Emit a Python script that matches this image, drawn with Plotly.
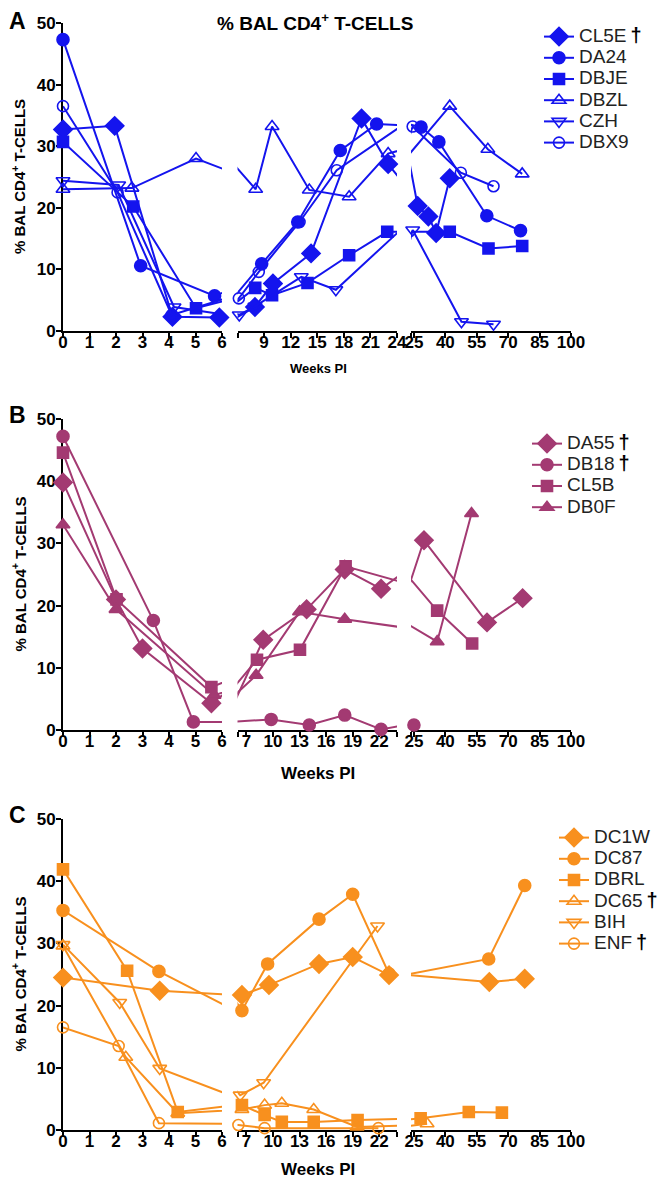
import plotly.graph_objects as go

# ---------------- data: weeks post infection (x) and % BAL CD4+ T-cells (y) ----------------
# Panel A (blue)
CL5E_wk = [0, 1.95, 4.13, 5.9, 7.97, 10.0, 14.3, 20.0, 23.0, 26.8, 31.9, 35.6, 42.1]
CL5E_pct = [32.7, 33.3, 2.3, 2.2, 3.9, 7.7, 12.6, 34.5, 27.1, 20.3, 18.6, 15.9, 24.8]
DA24_wk = [0, 2.93, 5.72, 8.73, 12.8, 17.6, 21.7, 28.4, 36.9, 59.8, 75.9]
DA24_pct = [47.3, 10.6, 5.7, 10.9, 17.7, 29.3, 33.6, 33.1, 30.7, 18.7, 16.3]
DBJE_wk = [0, 2.65, 5.02, 8.0, 9.9, 13.9, 18.6, 22.9, 42.1, 60.6, 76.7]
DBJE_pct = [30.7, 20.2, 3.7, 7.0, 5.8, 7.8, 12.3, 16.1, 16.1, 13.4, 13.8]
DBZL_wk = [0, 2.6, 5.02, 8.05, 9.9, 14.1, 18.6, 23.0, 42.1, 60.3, 76.7]
DBZL_pct = [23.0, 23.2, 28.0, 23.0, 33.2, 22.9, 21.8, 28.8, 36.5, 29.5, 25.5]
CZH_wk = [0, 2.1, 4.19, 6.2, 7.97, 13.2, 17.1, 24.4, 47.7, 63.0]
CZH_pct = [24.4, 23.7, 3.9, 2.6, 4.0, 8.8, 6.7, 16.4, 1.5, 1.1]
DBX9_wk = [0, 2.06, 4.1, 6.15, 8.4, 13.0, 17.2, 24.4, 47.4, 63.0]
DBX9_pct = [36.5, 22.5, 2.6, 5.3, 9.6, 17.7, 26.1, 33.2, 25.7, 23.5]

# Panel B (plum)
DA55_wk = [0, 2.0, 3.0, 5.6, 8.9, 13.8, 18.1, 22.2, 29.8, 59.9, 76.9]
DA55_pct = [39.8, 21.0, 13.1, 4.3, 14.5, 19.4, 25.8, 22.7, 30.5, 17.3, 21.2]
DB18_wk = [0, 3.41, 4.92, 9.8, 14.1, 18.1, 22.2, 25.0]
DB18_pct = [47.2, 17.6, 1.3, 1.7, 0.8, 2.4, 0.1, 0.8]
CL5B_wk = [0, 2.02, 5.6, 8.2, 13.05, 18.2, 36.1, 52.8]
CL5B_pct = [44.6, 21.0, 6.9, 11.3, 12.9, 26.3, 19.2, 13.9]
DB0F_wk = [0, 2.0, 5.7, 8.1, 13.0, 18.1, 36.1, 52.5]
DB0F_pct = [33.0, 19.4, 5.6, 8.8, 19.0, 17.8, 14.2, 34.8]

# Panel C (orange)
DC1W_wk = [0, 3.65, 6.5, 9.55, 15.2, 19.0, 23.1, 61.0, 77.9]
DC1W_pct = [24.5, 22.4, 21.7, 23.3, 26.7, 27.8, 24.9, 23.8, 24.3]
DC87_wk = [0, 3.62, 6.5, 9.4, 15.2, 19.0, 23.1, 60.7, 77.9]
DC87_pct = [35.3, 25.5, 19.2, 26.7, 33.9, 37.9, 25.1, 27.5, 39.3]
DBRL_wk = [0, 2.42, 4.33, 6.5, 9.06, 11.0, 14.6, 19.55, 28.2, 51.2, 67.0]
DBRL_pct = [41.9, 25.6, 2.9, 4.0, 2.4, 1.3, 1.3, 1.6, 1.9, 2.9, 2.8]
DC65_wk = [0, 2.37, 4.33, 6.5, 9.06, 11.0, 14.6, 19.5, 31.3]
DC65_pct = [29.6, 11.7, 2.7, 3.3, 4.0, 4.3, 3.3, 0.5, 1.0]
BIH_wk = [0, 2.14, 3.65, 6.3, 8.95, 21.8]
BIH_pct = [29.8, 20.5, 9.9, 5.6, 7.6, 32.8]
ENF_wk = [0, 2.1, 3.62, 6.1, 9.06, 21.9]
ENF_pct = [16.5, 13.5, 1.1, 0.8, 0.3, 0.3]

# tick labels
seg1_ticks = [0, 1, 2, 3, 4, 5, 6]
segA2_ticks = [6, 9, 12, 15, 18, 21, 24]
segA2_text = ["", "9", "12", "15", "18", "21", "24"]
segBC2_ticks = [6, 7, 10, 13, 16, 19, 22, 24]
segBC2_text = ["", "7", "10", "13", "16", "19", "22", ""]
seg3_ticks = [23.6, 25, 40, 55, 70, 85, 100]
seg3_text = ["", "25", "40", "55", "70", "85", "100"]
y_ticks = [0, 10, 20, 30, 40, 50]

# ---------------- styling ----------------
FONT = "Liberation Sans, Arial, sans-serif"
W, H = 666, 1178
OFF = 8  # page body margin of the html page
BLUE, PLUM, ORANGE = "#1414EE", "#A33A72", "#F8901E"

panels = [
    (BLUE, "legend", [
        ("CL5E", CL5E_wk, CL5E_pct, "diamond", True),
        ("DA24", DA24_wk, DA24_pct, "circle", False),
        ("DBJE", DBJE_wk, DBJE_pct, "square", False),
        ("DBZL", DBZL_wk, DBZL_pct, "triangle-up-open", False),
        ("CZH", CZH_wk, CZH_pct, "triangle-down-open", False),
        ("DBX9", DBX9_wk, DBX9_pct, "circle-open", False),
    ]),
    (PLUM, "legend2", [
        ("DA55", DA55_wk, DA55_pct, "diamond", True),
        ("DB18", DB18_wk, DB18_pct, "circle", True),
        ("CL5B", CL5B_wk, CL5B_pct, "square", False),
        ("DB0F", DB0F_wk, DB0F_pct, "triangle-up", False),
    ]),
    (ORANGE, "legend3", [
        ("DC1W", DC1W_wk, DC1W_pct, "diamond", False),
        ("DC87", DC87_wk, DC87_pct, "circle", False),
        ("DBRL", DBRL_wk, DBRL_pct, "square", False),
        ("DC65", DC65_wk, DC65_pct, "triangle-up-open", True),
        ("BIH", BIH_wk, BIH_pct, "triangle-down-open", False),
        ("ENF", ENF_wk, ENF_pct, "circle-open", True),
    ]),
]

SIZES = {"diamond": 14, "circle": 12, "square": 11, "triangle-up": 12,
         "triangle-up-open": 12, "triangle-down-open": 12, "circle-open": 11}

seg_dom_px = [(63, 222), (237.5, 397), (411, 571)]
y_dom_px = [(23, 331), (419, 730), (819, 1130)]
seg_ranges = [[0, 6], [6, 24], [23.6, 100]]
xtitle_px = [369, 773, 1169]


def px(v):
    return (v - OFF) / W


def py(v):
    return 1 - (v - OFF) / H


fig = go.Figure()

for p, (color, leg, series) in enumerate(panels):
    yname = "y" if p == 0 else f"y{p + 1}"
    for s in range(3):
        idx = p * 3 + s + 1
        xname = "x" if idx == 1 else f"x{idx}"
        for name, wk, pct, sym, dagger in series:
            label = f"<span style='font-size:19px'>{name}</span>"
            if dagger:
                label += " <span style='font-size:20px;color:black'><b>†</b></span>"
            fig.add_trace(go.Scatter(
                x=wk, y=pct, mode="lines+markers", xaxis=xname, yaxis=yname,
                cliponaxis=False, name=label, legend=leg, legendgroup=f"{p}{name}",
                showlegend=(s == 0), hoverinfo="skip",
                line=dict(color=color, width=2),
                marker=dict(symbol=sym, size=SIZES[sym], color=color,
                            line=dict(color=color, width=1.6)),
            ))

axis_common = dict(showline=True, linecolor="black", linewidth=2, ticks="outside",
                   ticklen=5, tickwidth=2, tickcolor="black", showgrid=False,
                   zeroline=False, layer="below traces", automargin=False,
                   tickfont=dict(family=FONT, size=17, color="black", weight="bold"))

layout_axes = {}
for p in range(3):
    yname = "y" if p == 0 else f"y{p + 1}"
    for s in range(3):
        idx = p * 3 + s + 1
        key = "xaxis" if idx == 1 else f"xaxis{idx}"
        if s == 0:
            tv, tt = seg1_ticks, [str(t) for t in seg1_ticks]
        elif s == 1:
            tv, tt = (segA2_ticks, segA2_text) if p == 0 else (segBC2_ticks, segBC2_text)
        else:
            tv, tt = seg3_ticks, seg3_text
        layout_axes[key] = dict(axis_common, domain=[px(seg_dom_px[s][0]), px(seg_dom_px[s][1])],
                                range=seg_ranges[s], anchor=yname, tickmode="array",
                                tickvals=tv, ticktext=tt, ticklabelstandoff=-10)
    ykey = "yaxis" if p == 0 else f"yaxis{p + 1}"
    layout_axes[ykey] = dict(axis_common, domain=[py(y_dom_px[p][1]), py(y_dom_px[p][0])],
                             range=[0, 50], anchor="x" if p == 0 else f"x{p * 3 + 1}",
                             tickmode="array", tickvals=y_ticks, ticklabelstandoff=-3)

legend_common = dict(font=dict(family=FONT, size=14, color="#222"), bgcolor="rgba(0,0,0,0)",
                     xanchor="left", yanchor="top", tracegroupgap=0, itemclick=False)


def note(text, x, y, size, angle=0):
    return dict(text=text, x=px(x), y=py(y), xref="paper", yref="paper", showarrow=False,
                xanchor="center", yanchor="middle", textangle=angle,
                font=dict(family=FONT, size=size, color="black", weight="bold"))


annotations = [note("% BAL CD4<sup>+</sup> T-CELLS", 315, 22, 19)]
for p, letter in enumerate(["A", "B", "C"]):
    top, bot = y_dom_px[p]
    annotations.append(note(letter, 17, top - 2 if p == 0 else top - 4, 23))
    annotations.append(note("% BAL CD4<sup>+</sup> T-CELLS", 19, (top + bot) / 2, 15, -90))
    annotations.append(note("Weeks PI", 318, xtitle_px[p], 13 if p == 0 else 17))

fig.update_layout(
    width=W, height=H, margin=dict(l=0, r=0, t=0, b=0, autoexpand=False),
    paper_bgcolor="white", plot_bgcolor="white",
    showlegend=True,
    legend=dict(legend_common, x=px(539), y=py(21)),
    legend2=dict(legend_common, x=px(527), y=py(428)),
    legend3=dict(legend_common, x=px(554), y=py(822)),
    annotations=annotations,
    **layout_axes,
)

fig.write_html("out.html")
